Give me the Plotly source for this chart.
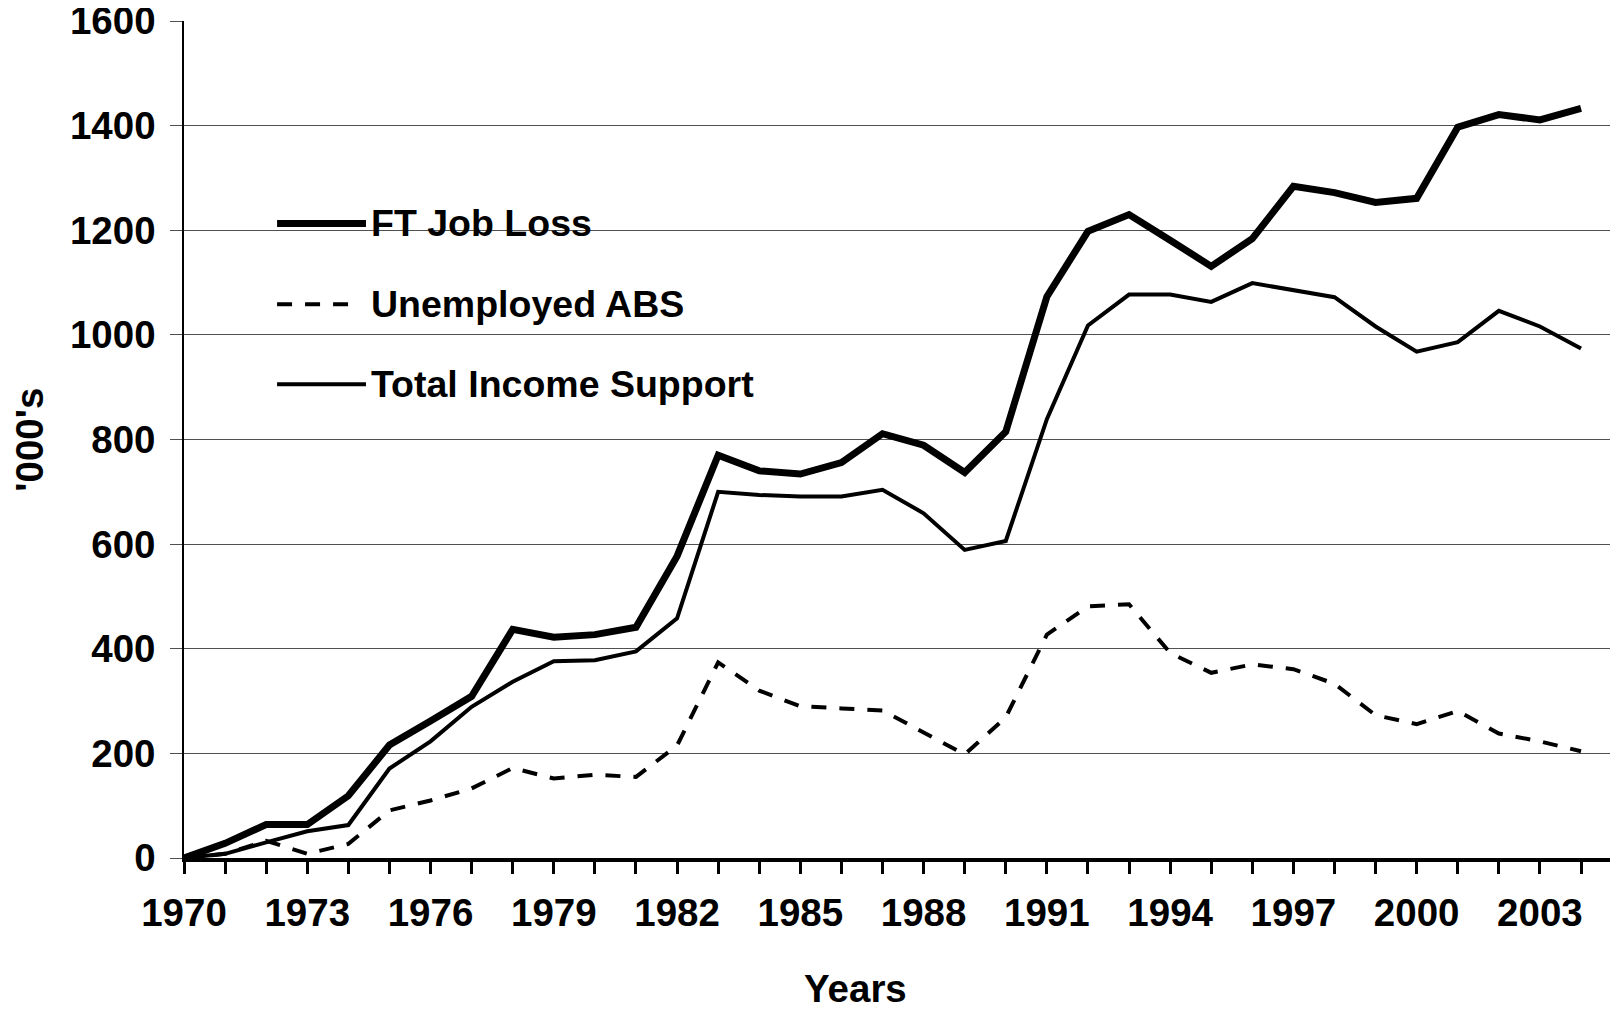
import plotly.graph_objects as go

years = list(range(1970, 2005))
ft_job_loss = [0, 28, 64, 64, 119, 216, 262, 309, 437, 422, 427, 441, 577, 770, 740,
               734, 756, 811, 789, 737, 815, 1073, 1198, 1230, 1181, 1131, 1184, 1284,
               1272, 1253, 1261, 1397, 1421, 1411, 1433]
unemployed_abs = [0, 8, 33, 8, 27, 91, 110, 133, 172, 152, 159, 155, 215, 374, 320,
                  290, 286, 282, 240, 198, 269, 427, 481, 485, 392, 354, 370, 361,
                  333, 273, 256, 281, 238, 223, 204]
total_income_support = [0, 8, 30, 51, 63, 171, 223, 289, 337, 376, 378, 395, 458, 700,
                        694, 691, 691, 704, 659, 589, 606, 839, 1018, 1077, 1077, 1063,
                        1099, 1086, 1072, 1016, 968, 986, 1046, 1016, 974]
x_tick_labels = [str(y) for y in range(1970, 2004, 3)]
y_ticks = list(range(0, 1601, 200))

FONT = dict(family="Arial, Liberation Sans, sans-serif", size=38.5, color="black", weight="bold")
LEGEND_FONT = dict(FONT, size=37.5)
DASH = "15px,13px"

SERIES = [
    ("FT Job Loss", ft_job_loss, dict(color="black", width=7)),
    ("Unemployed ABS", unemployed_abs, dict(color="black", width=4, dash=DASH)),
    ("Total Income Support", total_income_support, dict(color="black", width=4)),
]

fig = go.Figure()
for name, vals, line in SERIES:
    fig.add_trace(go.Scatter(x=years, y=vals, name=name, mode="lines", line=line,
                             showlegend=False))

# legend drawn by hand so the sample lines match the long Excel-style keys
fig.add_shape(type="rect", xref="paper", yref="paper", x0=0.0286, x1=0.4296,
              y0=0.5168, y1=0.8156, fillcolor="white", line_width=0, layer="between")
legend_y = [0.7582, 0.6615, 0.5659]
for (name, _, line), ly in zip(SERIES, legend_y):
    x1 = 0.1199 if "dash" in line else 0.1269
    fig.add_shape(type="line", xref="paper", yref="paper", x0=0.0649, x1=x1,
                  y0=ly, y1=ly, line=line)
    fig.add_annotation(text=name, xref="paper", yref="paper", x=0.129, y=ly,
                       xanchor="left", yanchor="middle", showarrow=False, font=LEGEND_FONT)

fig.add_annotation(text="Years", xref="paper", yref="paper", x=0.4686, y=-0.1555,
                   xanchor="center", yanchor="middle", showarrow=False, font=FONT)
fig.add_annotation(text="'000's", xref="paper", yref="paper", x=-0.108, y=0.5,
                   textangle=-90, xanchor="center", yanchor="middle", showarrow=False,
                   font=FONT)

# page body adds an 8px offset, so the figure is 8px smaller and margins shifted
fig.update_layout(
    width=1610, height=1003,
    paper_bgcolor="white", plot_bgcolor="white",
    margin=dict(l=176, r=0, t=13, b=153),
    font=FONT,
    xaxis=dict(
        range=[1970, 2004.9], automargin=False,
        tickvals=list(range(1970, 2004, 3)), ticktext=x_tick_labels,
        showgrid=False, zeroline=False,
        showline=True, linecolor="black", linewidth=4,
        ticks="outside", ticklen=12, tickwidth=3, tickcolor="black",
        ticklabelstandoff=6, ticklabeloverflow="allow",
        minor=dict(dtick=1, tick0=1970, ticks="outside", ticklen=12, tickwidth=3,
                   tickcolor="black", showgrid=False),
        tickfont=FONT,
    ),
    yaxis=dict(
        range=[0, 1600], tickvals=y_ticks, automargin=False,
        showgrid=True, gridcolor="#505050", gridwidth=1.3,
        zeroline=False, showline=True, linecolor="black", linewidth=1.5,
        ticks="outside", ticklen=12, tickwidth=1, tickcolor="#505050",
        ticklabelstandoff=7, ticklabeloverflow="allow",
        tickfont=FONT,
    ),
)

fig.write_html("out.html")
